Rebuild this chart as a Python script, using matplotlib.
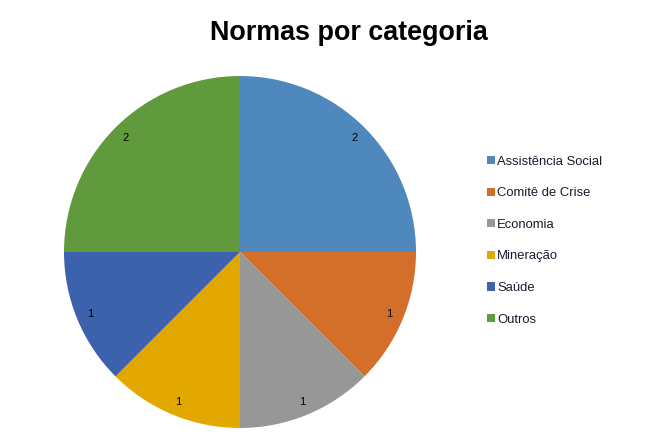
import matplotlib.pyplot as plt
from matplotlib.patches import Patch

categorias = ['Assistência Social', 'Comitê de Crise', 'Economia', 'Mineração', 'Saúde', 'Outros']
normas = [2, 1, 1, 1, 1, 2]
cores = ['#4f88bd', '#d36f2b', '#979797', '#e2a800', '#3c62ad', '#609a3d']

plt.rcParams['font.family'] = ['Liberation Sans', 'DejaVu Sans']

fig = plt.figure(figsize=(6.68, 4.41), dpi=100)
W, H = 668, 441
cx, cy, r = 240, 252, 176
ax = fig.add_axes([(cx - r) / W, (H - cy - r) / H, 2 * r / W, 2 * r / H])

ax.pie(normas, colors=cores, startangle=90, counterclock=False,
       labels=[str(v) for v in normas], labeldistance=0.92,
       textprops={'fontsize': 8, 'color': 'black', 'ha': 'center', 'va': 'center'},
       wedgeprops={'linewidth': 0})
ax.set_xlim(-1, 1)
ax.set_ylim(-1, 1)
ax.set_aspect('equal')

fig.text(349 / W, 1 - 33 / H, 'Normas por categoria', ha='center', va='center',
         fontsize=19.4, fontweight='bold')

handles = [Patch(facecolor=c, edgecolor='none') for c in cores]
fig.legend(handles, categorias, loc='upper left', bbox_to_anchor=(475 / W, 1 - 144 / H),
           frameon=False, fontsize=9.4, handlelength=0.6, handleheight=0.6,
           handletextpad=0.2, labelspacing=1.5, labelcolor='#1a1a2e')

fig.savefig('out.png', dpi=100)
